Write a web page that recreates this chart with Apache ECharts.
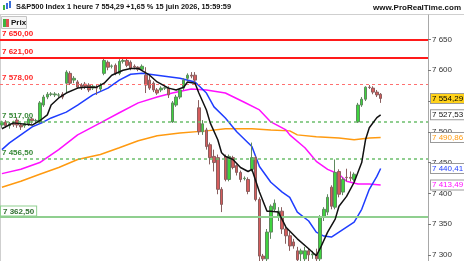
<!DOCTYPE html>
<html><head><meta charset="utf-8">
<script src="https://cdn.jsdelivr.net/npm/echarts@6/dist/echarts.min.js"></script>
<style>html,body{margin:0;padding:0;background:#fff;overflow:hidden}#c{width:464px;height:261px}</style>
</head><body><div id="c"></div>
<script>
// ---- data ----
const SLOT_COUNT = 113; // 101 hourly candles + empty space on the right
const categories = Array.from({length: SLOT_COUNT}, (_, i) => 'H' + (i + 1));
const opens  = [7511,7516,7510,7513,7519,7511,7510,7513,7521,7518,7516,7543.5,7556.5,7561,7560,7559.5,7561,7579,7595,7584,7581,7576,7577.5,7576,7571,7572.5,7569.5,7595,7613,7606.5,7608,7595,7614.5,7616,7613,7606.5,7605,7601.5,7592,7584,7579,7568,7568,7571,7571,7516,7543.5,7556.5,7571,7587,7592,7592,7539,7500,7503,7479,7460,7458,7406.5,7460,7422.5,7458,7445,7434,7424,7422.5,7439,7458,7390,7298,7293.5,7337,7374,7361,7371,7342,7331,7321,7306.5,7301.5,7293.5,7306.5,7300,7301.5,7293.5,7361,7369.5,7410,7377.5,7435.5,7402,7426,7426,7422.5,7516,7543.5,7553,7572.5,7571,7564.5,7561];
const closes = [7515,7510,7513,7511.5,7511,7508,7513,7521,7518,7518.5,7547,7556.5,7561,7561.5,7561.5,7560,7556.5,7597,7579,7587,7572.5,7573,7574,7568,7574,7571,7576,7616,7605,7607,7595,7614.5,7616,7608,7603,7605,7601.5,7606.5,7576,7571,7568,7563,7571,7571.5,7560,7547,7556.5,7568,7584,7592,7590.5,7584,7500,7513,7476,7458,7450,7406.5,7382,7422.5,7460,7442,7434,7422.5,7424.5,7403,7458,7390,7298,7293.5,7337,7379,7384,7371,7342,7331,7314.5,7314.5,7292,7306.5,7306.5,7300,7301.5,7293.5,7361,7374,7393.5,7379,7434,7398.5,7422.5,7425.5,7424.5,7431,7543.5,7553,7572.5,7572,7564.5,7560,7554.29];
const lows   = [7506.5,7506.5,7505,7508,7506.5,7503,7506.5,7509.5,7513,7514.5,7513,7540.5,7553,7558,7556.5,7556.5,7553,7564.5,7576,7579,7569.5,7568,7569.5,7564.5,7568,7560,7566,7592,7600,7603,7592,7592,7611,7605,7600,7601.5,7598.5,7600,7563,7568,7564.5,7560,7564.5,7568,7555,7514.5,7540.5,7553,7568,7584,7587,7581,7495,7495,7471,7447,7435.5,7398.5,7369.5,7419.5,7419.5,7439,7429,7418,7421,7398.5,7435.5,7387,7284,7285.5,7285.5,7326,7371,7355,7334,7318,7306.5,7310,7281,7290,7285.5,7290,7293.5,7287,7284,7355,7364.5,7374,7374,7393.5,7397,7419.5,7419.5,7419.5,7514.5,7540.5,7550,7569.5,7561,7556.5,7547];
const highs  = [7518,7519,7516,7518,7522.5,7514.5,7516,7524,7524,7521,7550,7560,7564.5,7564.5,7564.5,7563,7564.5,7600,7598.5,7590.5,7584,7579,7581,7579,7577.5,7576,7579,7619.5,7616,7609.5,7611,7618,7621,7621,7616,7609.5,7606.5,7609.5,7605,7590.5,7582,7571,7574,7574,7574,7550,7560,7571,7587,7595,7597,7597,7551.5,7519,7506.5,7482.5,7471,7463,7410,7463,7463,7461,7447,7437,7427.5,7426,7482.5,7461,7393.5,7301.5,7342,7382,7390,7377.5,7377.5,7345,7337,7326,7313,7310,7313,7311,7306.5,7310,7364.5,7377.5,7398.5,7413,7455,7439,7426,7440,7435.5,7434,7547,7556.5,7574,7576,7574,7568,7563];
// moving averages, read at key points: [slot index, value]
const maBlack   = [[0,7505],[3,7514.5],[8,7511],[10,7518],[12,7527.5],[13,7543.5],[15,7555],[17,7563],[20,7571],[22,7572.5],[25,7572.5],[27,7579],[29,7592],[32,7600],[34,7603],[36,7603],[39,7592],[41,7581],[44,7571],[46,7568],[48,7572.5],[49,7581],[51,7579],[52,7563],[54,7535.5],[55,7514.5],[57,7487],[58,7466],[59,7460],[61,7455],[63,7442],[65,7435.5],[66,7439],[68,7402],[70,7371],[71,7371],[73,7369.5],[75,7345],[78,7326],[81,7310],[83,7298.5],[84,7310],[86,7337],[88,7358],[89,7379],[91,7395],[93,7418],[95,7450],[96,7487],[97,7506.5],[99,7523],[100,7527.53]];
const maBlue    = [[0,7471],[2,7482],[5,7495],[8,7508],[11,7516],[13,7522.5],[17,7532],[20,7543.5],[24,7560],[28,7571],[31,7584],[34,7593.5],[37,7595],[41,7592],[47,7587],[51,7581],[54,7563],[56,7540.5],[59,7522.5],[62,7500],[66,7476],[68,7443.5],[71,7418],[74,7402],[76,7393.5],[78,7369.5],[81,7355],[83,7337],[85,7330.5],[87,7329],[89,7337],[93,7353],[95,7374],[97,7406.5],[99,7427.5],[100,7440.41]];
const maMagenta = [[0,7432],[5,7439],[10,7450],[15,7471],[20,7495],[26,7514.5],[31,7531],[36,7547],[41,7556.5],[45,7563],[50,7569.5],[54,7568],[59,7563],[64,7548],[68,7535.5],[71,7516],[75,7503],[76,7495],[80,7474],[83,7452],[86,7439],[89,7431],[91,7419.5],[94,7415],[97,7415],[100,7413.49]];
const maOrange  = [[0,7410],[5,7419.5],[10,7431],[15,7442],[20,7455],[26,7463],[31,7474],[36,7485.5],[41,7493.5],[47,7498],[54,7501.5],[59,7505],[66,7505],[71,7503],[76,7501.5],[78,7495],[83,7492],[89,7490],[93,7487],[97,7490],[100,7490.86]];
const yTickValues = [7300,7350,7400,7450,7500,7550,7600,7650];
const levelsRed   = [7650, 7621];
const levelDashRed = 7578;
const levelsGreenDash = [7517, 7456.5];
const levelGreen = 7362.5;
const lastValues = {price: 7554.29, black: 7527.53, orange: 7490.86, blue: 7440.41, magenta: 7413.49};
const titleText = 'S&P500 Index 1 heure 7 554,29 +1,65 % 15 juin 2026, 15:59:59';

// ---- helpers ----
const FONT = 'Liberation Sans, Arial, sans-serif';
function fmt(v, dec) {
  const neg = v < 0; v = Math.abs(v);
  let s = dec ? v.toFixed(dec) : String(Math.round(v));
  let [ip, fp] = s.split('.');
  ip = ip.replace(/\B(?=(\d{3})+(?!\d))/g, ' ');
  return (neg ? '-' : '') + ip + (fp ? ',' + fp : '');
}
const candleData = opens.map((o, i) => [o, closes[i], lows[i], highs[i]]);

function levelLine(v, color, type, width, labelOpt) {
  return {
    yAxis: v,
    lineStyle: {color: color, type: type, width: width},
    label: Object.assign({
      show: true, position: 'insideStartTop', formatter: fmt(v, 2),
      color: color, fontFamily: FONT, fontWeight: 'bold', fontSize: 8, distance: [2, 2]
    }, labelOpt || {})
  };
}
function valueBox(v, textColor, bg) {
  return {
    yAxis: v,
    lineStyle: {color: 'rgba(0,0,0,0)', width: 1},
    label: {
      show: true, position: 'end', distance: 3, formatter: fmt(v, 2),
      color: textColor, backgroundColor: bg, borderColor: '#9a9a9a', borderWidth: 1,
      padding: [1, 1, 0, 1], fontFamily: FONT, fontSize: 8, opacity: 1
    }
  };
}

const chart = echarts.init(document.getElementById('c'), null, {renderer: 'canvas'});
chart.setOption({
  animation: false,
  backgroundColor: '#ffffff',
  grid: {left: 0, top: 14.9, width: 428, height: 248, containLabel: false},
  xAxis: {
    type: 'category', data: categories, boundaryGap: true,
    axisLine: {show: false}, axisTick: {show: false}, axisLabel: {show: false}, splitLine: {show: false}
  },
  yAxis: {
    type: 'value', position: 'right', min: 7290, max: 7690, scale: true,
    axisLine: {show: true, lineStyle: {color: '#a8a8a8', width: 1}},
    axisTick: {show: true, length: 3, lineStyle: {color: '#777'}, customValues: yTickValues},
    axisLabel: {show: true, margin: 4, color: '#333', fontFamily: FONT, fontSize: 8,
      customValues: yTickValues, formatter: v => fmt(v)},
    splitLine: {show: false}
  },
  series: [
    {
      type: 'line', data: [], z: 1, silent: true,
      markLine: {
        silent: true, symbol: ['none', 'none'], animation: false,
        data: [
          levelLine(levelsRed[0], '#ff1a1a', 'solid', 2),
          levelLine(levelsRed[1], '#ff1a1a', 'solid', 2),
          levelLine(levelDashRed, '#ff7070', [3, 3], 1, {color: '#ff2a2a'}),
          levelLine(levelsGreenDash[0], '#6cbf6c', [3, 3], 1.5, {color: '#3a8a3a'}),
          levelLine(levelsGreenDash[1], '#6cbf6c', [3, 3], 1.5, {color: '#3a8a3a'}),
          levelLine(levelGreen, '#8fcf8f', 'solid', 2, {color: '#2f6f2f', backgroundColor: '#fff',
            borderColor: '#8fcf8f', borderWidth: 1, padding: [1, 2, 0, 2], distance: [1, 1]})
        ]
      }
    },
    {
      type: 'line', name: 'MA orange', data: maOrange, showSymbol: false, z: 3,
      lineStyle: {color: '#ff9a10', width: 1.5}
    },
    {
      type: 'line', name: 'MA magenta', data: maMagenta, showSymbol: false, z: 3,
      lineStyle: {color: '#ff10ff', width: 1.5}
    },
    {
      type: 'line', name: 'MA bleu', data: maBlue, showSymbol: false, z: 3,
      lineStyle: {color: '#1f3dff', width: 1.5}
    },
    {
      type: 'candlestick', name: 'Prix', data: candleData, barWidth: 3, z: 4,
      itemStyle: {color: '#3fd33f', color0: '#d55c5c', borderColor: '#5f8a5f', borderColor0: '#8a5f5f', borderWidth: 1}
    },
    {
      type: 'line', name: 'MA noire', data: maBlack, showSymbol: false, z: 5,
      lineStyle: {color: '#111', width: 1.5}
    },
    {
      type: 'line', data: [], z: 10, silent: true, clip: false,
      markLine: {
        silent: true, symbol: ['none', 'none'], animation: false,
        data: [
          valueBox(lastValues.price, '#000', '#ffd21a'),
          valueBox(lastValues.black, '#111', '#fff'),
          valueBox(lastValues.orange, '#ff9a10', '#fff'),
          valueBox(lastValues.blue, '#1f3dff', '#fff'),
          valueBox(lastValues.magenta, '#ff10ff', '#fff')
        ]
      }
    }
  ],
  graphic: [
    {type: 'line', shape: {x1: 0, y1: 14.5, x2: 464, y2: 14.5}, style: {stroke: '#cfcfcf', lineWidth: 1}},
    {type: 'line', shape: {x1: 0.5, y1: 15, x2: 0.5, y2: 261}, style: {stroke: '#cfcfcf', lineWidth: 1}},
    // title icon
    {type: 'rect', shape: {x: 3, y: 5, width: 2, height: 5}, style: {fill: '#3fb33f'}},
    {type: 'rect', shape: {x: 6, y: 3, width: 2, height: 6}, style: {fill: '#3a6fd8'}},
    {type: 'rect', shape: {x: 9, y: 1, width: 2, height: 7}, style: {fill: '#3a6fd8'}},
    {type: 'text', x: 16, y: 7, style: {text: titleText, font: 'bold 7.4px ' + FONT, fill: '#111', textVerticalAlign: 'middle'}},
    {type: 'text', x: 461, y: 8, style: {text: 'www.ProRealTime.com', font: 'bold 8px ' + FONT, fill: '#111', textAlign: 'right', textVerticalAlign: 'middle'}},
    // legend box
    {type: 'rect', shape: {x: 1.5, y: 16.5, width: 25, height: 12}, style: {fill: '#f6f6f6', stroke: '#c4c4c4', lineWidth: 1}},
    {type: 'rect', shape: {x: 3, y: 19, width: 3, height: 8}, style: {fill: '#3fb33f'}},
    {type: 'rect', shape: {x: 6, y: 19, width: 3, height: 8}, style: {fill: '#e05050'}},
    {type: 'text', x: 11, y: 22.5, style: {text: 'Prix', font: 'bold 8px ' + FONT, fill: '#111', textVerticalAlign: 'middle'}}
  ]
});
</script>
</body></html>
